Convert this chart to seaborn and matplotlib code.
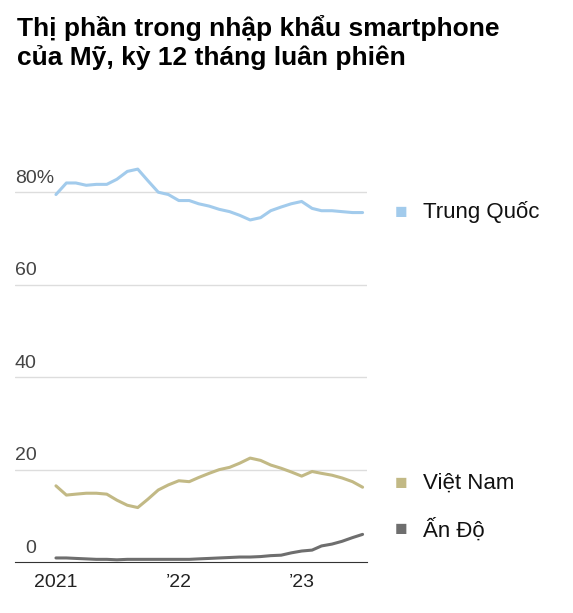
import matplotlib
matplotlib.use("Agg")
import matplotlib.pyplot as plt
import seaborn as sns
import pandas as pd

months = pd.date_range("2021-01-01", periods=31, freq="MS")

trung_quoc = [79.5, 82, 82, 81.5, 81.7, 81.7, 82.8, 84.5, 85, 82.5, 80, 79.5, 78.2, 78.2,
              77.5, 77, 76.3, 75.8, 75, 74, 74.5, 76, 76.8, 77.5, 78, 76.5, 76, 76, 75.8, 75.6, 75.6]
viet_nam = [16.5, 14.5, 14.7, 14.9, 14.9, 14.7, 13.4, 12.3, 11.8, 13.6, 15.6, 16.7, 17.6, 17.4,
            18.3, 19.2, 20, 20.5, 21.4, 22.5, 22, 21, 20.3, 19.5, 18.6, 19.6, 19.2, 18.8, 18.2, 17.4, 16.2]
an_do = [0.9, 0.9, 0.8, 0.7, 0.6, 0.6, 0.5, 0.6, 0.6, 0.6, 0.6, 0.6, 0.6, 0.6,
         0.7, 0.8, 0.9, 1.0, 1.1, 1.1, 1.2, 1.4, 1.5, 2.0, 2.4, 2.6, 3.5, 3.9, 4.5, 5.3, 6.0]

names = ["Trung Quốc", "Việt Nam", "Ấn Độ"]
colors = ["#a2cbec", "#c2b985", "#6e6e6e"]
label_y = [75.7, 17.0, 7.0]

df = pd.DataFrame({"month": list(months) * 3,
                   "value": trung_quoc + viet_nam + an_do,
                   "series": [n for n in names for _ in months]})

sns.set_style("white")
plt.rcParams["font.family"] = ["Liberation Sans", "DejaVu Sans"]
fig = plt.figure(figsize=(5.73, 6.13), dpi=100)
ax = fig.add_axes([0.026, 0.083, 0.615, 0.66])
sns.lineplot(data=df, x="month", y="value", hue="series", palette=colors,
             linewidth=2.2, legend=False, ax=ax)

ax.set_ylim(0, 87.5)
ax.set_xlim(pd.Timestamp("2020-09-01"), pd.Timestamp("2023-07-15"))
for v in [20, 40, 60, 80]:
    ax.axhline(v, color="#dddddd", lw=1, zorder=0)
    ax.text(0.0, v + 1.2, f"{v}%" if v == 80 else str(v), transform=ax.get_yaxis_transform(),
            fontsize=14, color="#444444", va="bottom", ha="left")
ax.text(0.03, 1.2, "0", transform=ax.get_yaxis_transform(), fontsize=14, color="#444444", va="bottom")
ax.set_yticks([])
for s in ["top", "right", "left"]:
    ax.spines[s].set_visible(False)
ax.spines["bottom"].set_color("#333333")
ax.set_xticks(pd.to_datetime(["2021-01-01", "2022-01-01", "2023-01-01"]))
ax.set_xticklabels(["2021", "’22", "’23"], fontsize=14, color="#222222")
ax.tick_params(axis="x", length=5, color="#333333")
ax.set_xlabel("")
ax.set_ylabel("")

for name, c, v in zip(names, colors, label_y):
    ax.annotate("■", xy=(1.0, v), xycoords=("axes fraction", "data"), xytext=(20, 0),
                textcoords="offset points", color=c, fontsize=15, va="center")
    ax.annotate(name, xy=(1.0, v), xycoords=("axes fraction", "data"), xytext=(40, 0),
                textcoords="offset points", color="#111111", fontsize=16, va="center")

fig.text(0.03, 0.975, "Thị phần trong nhập khẩu smartphone\ncủa Mỹ, kỳ 12 tháng luân phiên",
         fontsize=19, fontweight="bold", va="top", ha="left", linespacing=1.2, color="black")
fig.savefig("out.png", dpi=100)
